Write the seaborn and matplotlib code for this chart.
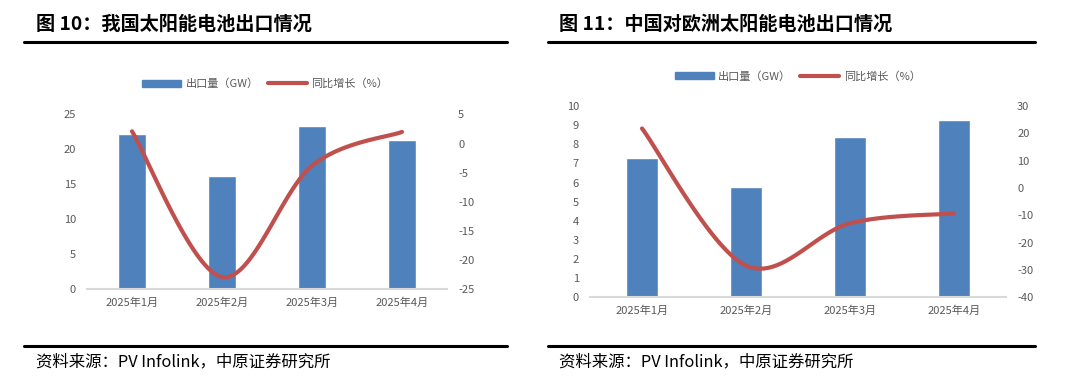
import numpy as np
import pandas as pd
import matplotlib.pyplot as plt
import seaborn as sns
from matplotlib.lines import Line2D
from matplotlib.patches import Patch

# 数据
months = ["2025年1月", "2025年2月", "2025年3月", "2025年4月"]
export_cn = [22.2, 16.2, 23.3, 21.3]        # 出口量 (GW)
yoy_cn = [2.1, -22.9, -3.8, 2.0]            # 同比增长 (%)
export_eu = [7.28, 5.77, 8.38, 9.27]
yoy_eu = [21.8, -28.4, -12.9, -9.3]

titles = ["图 10：我国太阳能电池出口情况", "图 11：中国对欧洲太阳能电池出口情况"]
source = "资料来源：PV Infolink，中原证券研究所"

BAR = "#4F81BD"
LINE = "#C0504D"
GRAY = "#595959"

sns.set_theme(style="white")
plt.rcParams['font.family'] = ['Noto Sans CJK SC', 'DejaVu Sans']
plt.rcParams['axes.unicode_minus'] = False


def smooth(xs, ys, n=40):
    # Excel 风格的平滑线（Bezier，张力 1/6）
    p = np.column_stack([xs, ys]).astype(float)
    out = []
    for i in range(len(p) - 1):
        p0 = p[i - 1] if i > 0 else p[i]
        p3 = p[i + 2] if i + 2 < len(p) else p[i + 1]
        c1 = p[i] + (p[i + 1] - p0) / 6
        c2 = p[i + 1] - (p3 - p[i]) / 6
        t = np.linspace(0, 1, n)[:, None]
        seg = ((1 - t) ** 3) * p[i] + 3 * ((1 - t) ** 2) * t * c1 + 3 * (1 - t) * t ** 2 * c2 + t ** 3 * p[i + 1]
        out.append(seg)
    out = np.vstack(out)
    return out[:, 0], out[:, 1]


def draw_panel(fig, rect, bars, yoy, ylim, yticks, y2lim, y2ticks, legend_xy):
    ax = fig.add_axes(rect)
    df = pd.DataFrame({"month": months, "val": bars})
    sns.barplot(data=df, x="month", y="val", color=BAR, width=0.31, saturation=1, ax=ax)
    ax.set_xlim(-0.5, 3.5)
    ax.set_ylim(*ylim)
    ax.set_yticks(yticks)
    ax.set_xlabel("")
    ax.set_ylabel("")
    for s in ["top", "right", "left"]:
        ax.spines[s].set_visible(False)
    ax.spines["bottom"].set_color("#D9D9D9")
    ax.spines["bottom"].set_linewidth(1.5)
    ax.tick_params(axis="x", which="major", length=0, labelsize=8, labelcolor=GRAY, pad=6)
    ax.set_xticks(np.arange(-0.5, 4.0, 1.0), minor=True)
    ax.tick_params(axis="x", which="minor", length=4, width=1.2, color="#D9D9D9", direction="out")
    ax.tick_params(axis="y", length=0, labelsize=8, labelcolor=GRAY, pad=8)
    ax.grid(False)

    ax2 = ax.twinx()
    sx, sy = smooth(np.arange(len(yoy)), yoy)
    ax2.plot(sx, sy, color=LINE, lw=3, solid_capstyle="round")
    ax2.set_ylim(*y2lim)
    ax2.set_yticks(y2ticks)
    ax2.tick_params(axis="y", length=0, labelsize=8, labelcolor=GRAY, pad=8)
    for s in ax2.spines.values():
        s.set_visible(False)
    ax2.grid(False)

    handles = [Patch(color=BAR), Line2D([0], [0], color=LINE, lw=3, solid_capstyle="round")]
    fig.legend(handles, ["出口量（GW）", "同比增长（%）"], loc="center",
               bbox_to_anchor=legend_xy, ncol=2, frameon=False, fontsize=8,
               labelcolor=GRAY, handlelength=3.5, handleheight=0.6,
               columnspacing=0.8, handletextpad=0.4)
    return ax


fig = plt.figure(figsize=(10.65, 3.81), dpi=100)

draw_panel(fig, [0.0817, 0.2407, 0.338, 0.459], export_cn, yoy_cn,
           (0, 25), range(0, 26, 5), (-25, 5), range(-25, 6, 5), (0.249, 0.78))
draw_panel(fig, [0.554, 0.2197, 0.3906, 0.502], export_eu, yoy_eu,
           (0, 10), range(0, 11), (-40, 30), range(-40, 31, 10), (0.749, 0.80))

# 标题、分隔线、资料来源
for x0, x1, tx, title in [(24, 507, 36, titles[0]), (548, 1035, 559, titles[1])]:
    fig.add_artist(Line2D([x0 / 1065, x1 / 1065], [1 - 42 / 381] * 2, color="black", lw=2.2))
    fig.add_artist(Line2D([x0 / 1065, x1 / 1065], [1 - 346 / 381] * 2, color="black", lw=2.2))
    fig.text(tx / 1065, 1 - 24 / 381, title, fontsize=13.8, fontweight="bold",
             va="center", ha="left", color="black")
    fig.text(tx / 1065, 1 - 362 / 381, source, fontsize=11.8, va="center", ha="left",
             color="black")

fig.savefig("out.png", dpi=100)
